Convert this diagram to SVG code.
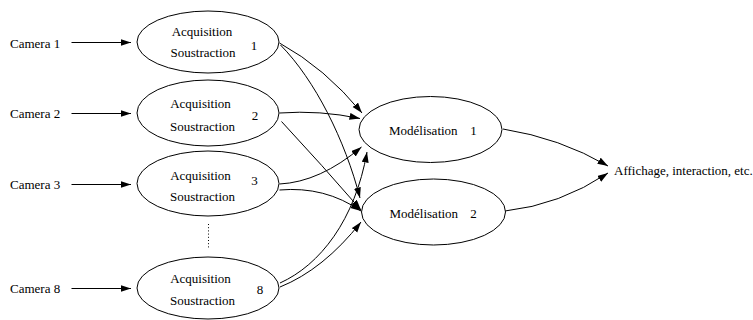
<svg xmlns="http://www.w3.org/2000/svg" width="753" height="320" viewBox="0 0 753 320">
<style>
text{font-family:"Liberation Serif","Times New Roman",serif;font-size:13px;fill:#000}
.n{fill:#fff;stroke:#000;stroke-width:1}
.e{fill:none;stroke:#000;stroke-width:1;marker-end:url(#ah)}
.m{text-anchor:middle}
</style>
<defs>
<marker id="ah" markerUnits="userSpaceOnUse" markerWidth="11" markerHeight="8" refX="10.5" refY="3.5" orient="auto">
<path d="M0,0 L10.5,3.5 L0,7 z" fill="#000"/>
</marker>
</defs>
<g id="connectors">
<line class="e" x1="71.5" y1="42.5" x2="131" y2="42.5"/>
<line class="e" x1="71.5" y1="113.5" x2="131" y2="113.5"/>
<line class="e" x1="71.5" y1="184.5" x2="131" y2="184.5"/>
<line class="e" x1="71.5" y1="288.5" x2="131" y2="288.5"/>
<path class="e" d="M279.5,43 Q325,68 362,113"/>
<path class="e" d="M280.5,45 C315,80 345,140 360,198"/>
<path class="e" d="M279.5,113 Q320,110 360,118.5"/>
<path class="e" d="M281.5,121.5 Q322,165 361,210"/>
<path class="e" d="M279.5,184 Q320,182 361.5,147"/>
<path class="e" d="M279.5,190 Q325,186 361,211"/>
<path class="e" d="M280,283 C320,265 355,220 367,152"/>
<path class="e" d="M280,287 Q323.5,269.5 361,222"/>
<path class="e" d="M503,129 Q560,138 608,166"/>
<path class="e" d="M505,211 Q560,205 608,173"/>
<line x1="208.5" y1="224" x2="208.5" y2="249" stroke="#000" stroke-width="1" stroke-dasharray="1 2.2"/>
</g>
<g id="camera1"><text x="10" y="47.5">Camera 1</text></g>
<g id="camera2"><text x="10" y="118">Camera 2</text></g>
<g id="camera3"><text x="10" y="189">Camera 3</text></g>
<g id="camera8"><text x="10" y="293">Camera 8</text></g>
<g id="acq1">
<ellipse class="n" cx="208" cy="42" rx="71" ry="31"/>
<text class="m" x="202" y="36">Acquisition</text>
<text class="m" x="203" y="56.5">Soustraction</text>
<text class="m" x="254" y="49.5">1</text>
</g>
<g id="acq2">
<ellipse class="n" cx="208" cy="113" rx="71" ry="33"/>
<text class="m" x="200.5" y="108">Acquisition</text>
<text class="m" x="202.5" y="130.5">Soustraction</text>
<text class="m" x="255" y="119.5">2</text>
</g>
<g id="acq3">
<ellipse class="n" cx="208" cy="183.5" rx="71" ry="32.5"/>
<text class="m" x="200.5" y="179.5">Acquisition</text>
<text class="m" x="202.5" y="200.5">Soustraction</text>
<text class="m" x="254.5" y="185">3</text>
</g>
<g id="acq8">
<ellipse class="n" cx="208" cy="288" rx="71" ry="31"/>
<text class="m" x="200.5" y="283">Acquisition</text>
<text class="m" x="202.5" y="305">Soustraction</text>
<text class="m" x="260" y="294">8</text>
</g>
<g id="model1">
<ellipse class="n" cx="430.5" cy="129.5" rx="71.5" ry="33"/>
<text x="389" y="134.5">Modélisation</text>
<text class="m" x="473.5" y="134.5">1</text>
</g>
<g id="model2">
<ellipse class="n" cx="433.5" cy="212" rx="72" ry="33"/>
<text x="389.5" y="218">Modélisation</text>
<text class="m" x="473.5" y="218">2</text>
</g>
<g id="affichage"><text x="614" y="174.5">Affichage, interaction, etc.</text></g>
</svg>
